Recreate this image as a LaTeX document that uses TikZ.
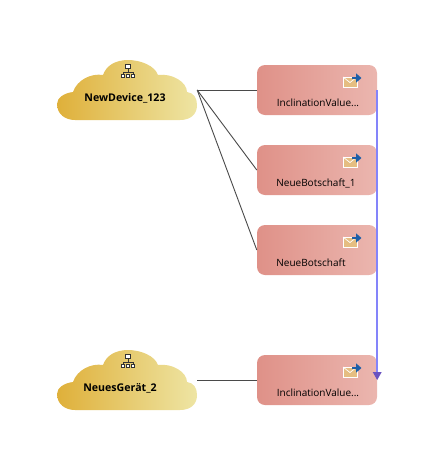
\documentclass[tikz,border=0pt]{standalone}
\usepackage{xcolor}
\usepackage{fontspec}
\setmainfont{Open Sans}
\usepackage{tikz}
\usetikzlibrary{arrows.meta}
\definecolor{cloudleft}{HTML}{DFB03A}
\definecolor{cloudright}{HTML}{EEE5A4}
\definecolor{boxleft}{HTML}{DF9188}
\definecolor{boxright}{HTML}{EBB6AF}
\definecolor{mailfill}{HTML}{E5BE82}
\definecolor{mailarrow}{HTML}{1F5FA8}
\definecolor{linkline}{HTML}{4A4A4A}
\definecolor{busline}{HTML}{8484FA}
\definecolor{bustip}{HTML}{6A52C0}
% cloud outline around a point
\newcommand{\cloudshape}[1]{\shade[left color=cloudleft, right color=cloudright, shift={(#1)}] (-52,30) -- (53,30) .. controls (64,30) and (70,24) .. (70,15) .. controls (70,8) and (67,3) .. (60,2) .. controls (60,-8) and (45,-17) .. (31,-15) .. controls (28,-24) and (14,-30) .. (1,-30) .. controls (-12,-30) and (-21,-24) .. (-24,-15) .. controls (-36,-17) and (-50,-10) .. (-54,2) .. controls (-63,3) and (-70,8) .. (-70,14) .. controls (-70,24) and (-62,30) .. (-52,30) -- cycle;}
% small network icon
\newcommand{\neticon}[1]{\begin{scope}[shift={(#1)}, line width=0.8pt, draw=black!80]
\draw[fill=white] (-2.5,-7) rectangle (2.5,-2.5);
\draw (0,-2.5) -- (0,1) (-5,3) -- (-5,1) -- (5,1) -- (5,3);
\draw[fill=white] (-6.5,3) rectangle (-3.5,6.5) (-1.5,3) rectangle (1.5,6.5) (3.5,3) rectangle (6.5,6.5);
\end{scope}}
% envelope icon, the second argument is the arrow direction
\newcommand{\mailicon}[2]{\begin{scope}[shift={(#1)}]
\draw[fill=mailfill, draw=white, line width=0.7pt] (-7,-5) rectangle (7,5);
\draw[white, line width=0.7pt] (-7,-5) -- (0,0.5) -- (7,-5);
\draw[#2, mailarrow, line width=2pt, -{Triangle[length=5.5pt,width=9pt]}] (2,-4) -- (11.5,-4);
\end{scope}}
\begin{document}
\begin{tikzpicture}[x=1pt, y=-1pt, every node/.style={font=\fontsize{10}{12}\selectfont},
anchorbox/.style={minimum width=140pt, minimum height=60pt, inner sep=0pt},
msgbox/.style={left color=boxleft, right color=boxright, rounded corners=8pt, minimum width=120pt, minimum height=50pt, inner sep=0pt},
link/.style={draw=linkline, line width=0.9pt},
bus/.style={draw=busline, line width=1.6pt, -{Triangle[length=8pt,width=9pt,fill=bustip,line width=0pt]}}]
\useasboundingbox (0,0) rectangle (447,472);
\cloudshape{127,90}
\cloudshape{127,380}
\node[anchorbox] (newdev) at (127,90) {};
\node[anchorbox] (neuesgeraet) at (127,380) {};
\node[font=\fontsize{10.6}{12}\selectfont\bfseries] (newdevtext) at (125,98) {NewDevice\_123};
\node[font=\fontsize{10.6}{12}\selectfont\bfseries] (neuesgeraettext) at (120,388) {NeuesGerät\_2};
\node[msgbox] (incl) at (317,90) {};
\node[msgbox] (neu1) at (317,170) {};
\node[msgbox] (neu) at (317,250) {};
\node[msgbox] (incl2) at (317,380) {};
\node (incltext) at (318,103) {InclinationValue...};
\node (neu1text) at (316,183) {NeueBotschaft\_1};
\node (neutext) at (311,263) {NeueBotschaft};
\node (incl2text) at (318,393) {InclinationValue...};
\neticon{128,71}
\neticon{128,361}
\mailicon{350,82}{}
\mailicon{350,162}{}
\mailicon{350,242}{}
\mailicon{350,372}{<-}
\draw[link] (newdev.east) -- (incl.west); \draw[link] (newdev.east) -- (neu1.west); \draw[link] (newdev.east) -- (neu.west); \draw[link] (neuesgeraet.east) -- (incl2.west);
\draw[bus] (incl.east) -- (incl2.east);
\end{tikzpicture}
\end{document}
